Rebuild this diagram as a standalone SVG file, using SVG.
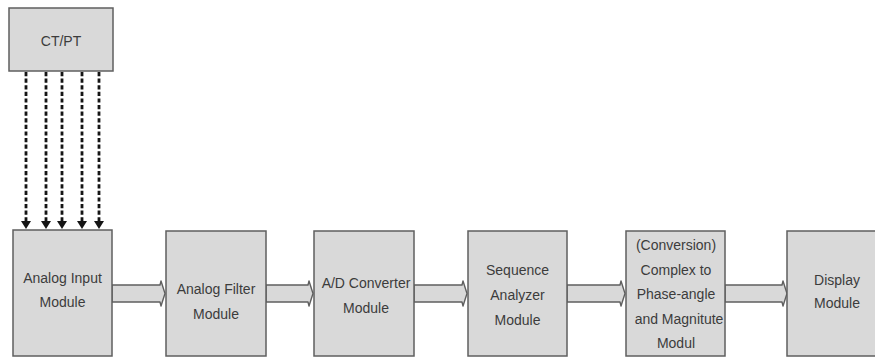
<svg xmlns="http://www.w3.org/2000/svg" width="875" height="358" viewBox="0 0 875 358">
  <style>
    .box { fill: #d9d9d9; stroke: #5f5f5f; stroke-width: 1.5; }
    .lbl { font-family: "Liberation Sans", Arial, sans-serif; font-size: 14px; fill: #3c3c3c; text-anchor: middle; }
    .dash { fill: none; stroke: #151515; stroke-width: 2.8; stroke-dasharray: 4.2 2.4; }
    .flow { fill: #d9d9d9; stroke: #5f5f5f; stroke-width: 1.4; stroke-linejoin: round; }
    .head { fill: #151515; }
  </style>
  <rect width="875" height="358" fill="#ffffff"/>

  <g id="connectors">
    <!-- dashed signal lines from CT/PT down to the input module -->
    <g>
      <line class="dash" x1="26" y1="72" x2="26" y2="221"/>
      <line class="dash" x1="46" y1="72" x2="46" y2="221"/>
      <line class="dash" x1="62" y1="72" x2="62" y2="221"/>
      <line class="dash" x1="82" y1="72" x2="82" y2="221"/>
      <line class="dash" x1="99" y1="72" x2="99" y2="221"/>
      <path class="head" d="M21,221 H31 L26,229 Z M41,221 H51 L46,229 Z M57,221 H67 L62,229 Z M77,221 H87 L82,229 Z M94,221 H104 L99,229 Z"/>
    </g>
    <!-- block arrows between modules -->
    <path class="flow" d="M112,285 H160 L161,281 L165,293.5 L161,306 L160,302 H112 Z"/>
    <path class="flow" d="M266,285 H308 L309,281 L313,293.5 L309,306 L308,302 H266 Z"/>
    <path class="flow" d="M414,285 H462 L463,281 L467,293.5 L463,306 L462,302 H414 Z"/>
    <path class="flow" d="M567,285 H620 L621,281 L625,293.5 L621,306 L620,302 H567 Z"/>
    <path class="flow" d="M725,285 H782 L783,281 L787,293.5 L783,306 L782,302 H725 Z"/>
  </g>

  <g id="ctpt">
    <rect class="box" x="9" y="8" width="104" height="63"/>
    <text class="lbl" x="61" y="46">CT/PT</text>
  </g>

  <g id="analog-input">
    <rect class="box" x="13" y="230" width="99" height="126"/>
    <text class="lbl" x="62.5" y="283">Analog Input</text>
    <text class="lbl" x="62.5" y="307">Module</text>
  </g>

  <g id="analog-filter">
    <rect class="box" x="166" y="231" width="100" height="125"/>
    <text class="lbl" x="216" y="294">Analog Filter</text>
    <text class="lbl" x="216" y="319">Module</text>
  </g>

  <g id="ad-converter">
    <rect class="box" x="314" y="231" width="100" height="125"/>
    <text class="lbl" x="366" y="288">A/D Converter</text>
    <text class="lbl" x="366" y="313">Module</text>
  </g>

  <g id="sequence-analyzer">
    <rect class="box" x="468" y="231" width="99" height="125"/>
    <text class="lbl" x="517.5" y="275">Sequence</text>
    <text class="lbl" x="517.5" y="300">Analyzer</text>
    <text class="lbl" x="517.5" y="325">Module</text>
  </g>

  <g id="conversion">
    <rect class="box" x="626" y="231" width="99" height="125"/>
    <text class="lbl" x="676" y="250">(Conversion)</text>
    <text class="lbl" x="676" y="274.5">Complex to</text>
    <text class="lbl" x="676" y="299">Phase-angle</text>
    <text class="lbl" x="679" y="323.5">and Magnitute</text>
    <text class="lbl" x="676" y="348">Modul</text>
  </g>

  <g id="display">
    <rect class="box" x="787" y="231" width="100" height="125"/>
    <text class="lbl" x="837" y="285">Display</text>
    <text class="lbl" x="837" y="308">Module</text>
  </g>
</svg>
